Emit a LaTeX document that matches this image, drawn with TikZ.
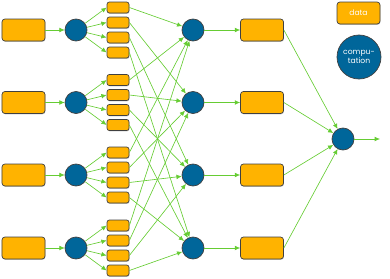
\documentclass[tikz,border=0pt]{standalone}
\usepackage{fontspec}
\setsansfont{Poppins}
\usetikzlibrary{arrows.meta,shadows}
\definecolor{dataOrange}{HTML}{FFB300}
\definecolor{compBlue}{HTML}{00669A}
\definecolor{flowGreen}{HTML}{66CC33}

\begin{document}
\begin{tikzpicture}[x=0.03cm, y=-0.03cm, >={Latex[length=4.5pt,width=4pt]},
  databox/.style={draw=black!75, line width=0.6pt, fill=dataOrange, rounded corners=2.5pt,
    minimum width=1.29cm, minimum height=0.66cm, inner sep=0pt,
    drop shadow={shadow xshift=0.4pt, shadow yshift=-0.7pt, opacity=0.45}},
  partbox/.style={databox, minimum width=0.66cm, minimum height=0.33cm, rounded corners=2pt},
  compnode/.style={circle, draw=black!75, line width=0.6pt, fill=compBlue, minimum size=0.66cm, inner sep=0pt},
  keytext/.style={text=white, font=\sffamily\fontsize{6.5}{7.5}\selectfont, align=center},
  flow/.style={->, flowGreen, line width=0.55pt}]
  \useasboundingbox (0,0) rectangle (390,278);
  % four rows: input, split, parts, hidden, output
  \foreach \i/\y in {1/30, 2/102.5, 3/175, 4/248} {
    \node[databox] (in\i) at (23.5,\y) {};
    \node[compnode] (c\i) at (76,\y) {};
    \foreach \j in {1,...,4}
      \node[partbox] (p\i\j) at (118,\y-37.5+15*\j) {};
    \node[compnode] (h\i) at (193,\y) {};
    \node[databox] (out\i) at (262,\y) {};
  }
  % final combination
  \node[compnode] (fin) at (343,139) {};
  \coordinate (res) at (380,139);
  % key
  \node[databox, keytext] (keydata) at (358.5,13) {data};
  \node[compnode, minimum size=1.32cm, keytext] (keycomp) at (359,57) {compu-\\tation};
  % arrows
  \foreach \i in {1,...,4} {
    \draw[flow] (in\i) -- (c\i);
    \foreach \j in {1,...,4} {
      \draw[flow] (c\i) -- (p\i\j.west);
      \draw[flow] (p\i\j.east) -- (h\j);
    }
    \draw[flow] (h\i) -- (out\i);
    \draw[flow] (out\i.east) -- (fin);
  }
  \draw[flow] (fin) -- (res);
\end{tikzpicture}
\end{document}
